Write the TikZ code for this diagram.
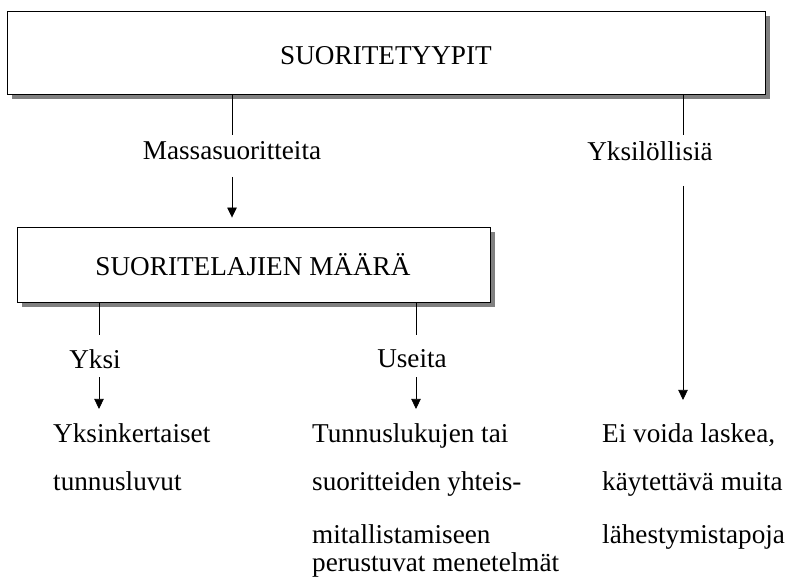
\documentclass[tikz,border=0pt]{standalone}
\usepackage{fontspec}
\setmainfont{Liberation Serif}
\usetikzlibrary{arrows.meta,shadows}
\definecolor{shadowgray}{RGB}{128,128,128}
\begin{document}
\begin{tikzpicture}[x=1bp,y=-1bp,
  box/.style={draw=black, line width=0.9bp, fill=white, inner sep=0pt,
    general shadow={fill=shadowgray, shadow xshift=5bp, shadow yshift=-5bp}},
  txt/.style={font=\fontsize{27.3pt}{32pt}\selectfont, inner sep=0pt},
  conn/.style={draw=black, line width=0.75bp},
  arr/.style={conn, -{Triangle[length=10bp,width=9.5bp]}}]
\useasboundingbox (0,0) rectangle (790,578);

% boxes
\node[box, minimum width=758bp, minimum height=83bp] (top) at (386,52.5) {};
\node[txt, anchor=base] (toplbl) at (386,65) {SUORITETYYPIT};
\node[box, minimum width=473bp, minimum height=75bp] (mid) at (253.5,264.5) {};
\node[txt, anchor=base] (midlbl) at (253,275) {SUORITELAJIEN MÄÄRÄ};

% branch labels
\node[txt, anchor=base] (massa) at (232,160) {Massasuoritteita};
\node[txt, anchor=base] (yksil) at (650,161) {Yksilöllisiä};
\node[txt, anchor=base] (yksi) at (95,368) {Yksi};
\node[txt, anchor=base] (useita) at (412,367) {Useita};

% bottom texts
\node[txt, anchor=base west] (a1) at (53,442) {Yksinkertaiset};
\node[txt, anchor=base west] (a2) at (53,490) {tunnusluvut};
\node[txt, anchor=base west] (b1) at (312,442) {Tunnuslukujen tai};
\node[txt, anchor=base west] (b2) at (312,490) {suoritteiden yhteis-};
\node[txt, anchor=base west] (b3) at (312,543) {mitallistamiseen};
\node[txt, anchor=base west] (b4) at (312,571) {perustuvat menetelmät};
\node[txt, anchor=base west] (c1) at (602,442) {Ei voida laskea,};
\node[txt, anchor=base west] (c2) at (602,490) {käytettävä muita};
\node[txt, anchor=base west] (c3) at (602,543) {lähestymistapoja};

% connector end points
\coordinate (m1) at (232,135); \coordinate (m2) at (232,177);
\coordinate (r1) at (683,135); \coordinate (r2) at (683,186);
\coordinate (y1) at (99,335);  \coordinate (y2) at (99,377);
\coordinate (u1) at (416,335); \coordinate (u2) at (416,377);

% connectors
\draw[conn] (top.south -| m1) -- (m1);
\draw[arr, shorten >=9bp] (m2) -- (mid.north -| m2);
\draw[conn] (top.south -| r1) -- (r1);
\draw[arr, shorten >=23bp] (r2) -- (r2 |- c1.north);
\draw[conn] (mid.south -| y1) -- (y1);
\draw[arr, shorten >=14bp] (y2) -- (y2 |- a1.north);
\draw[conn] (mid.south -| u1) -- (u1);
\draw[arr, shorten >=14bp] (u2) -- (u2 |- b1.north);
\end{tikzpicture}
\end{document}
